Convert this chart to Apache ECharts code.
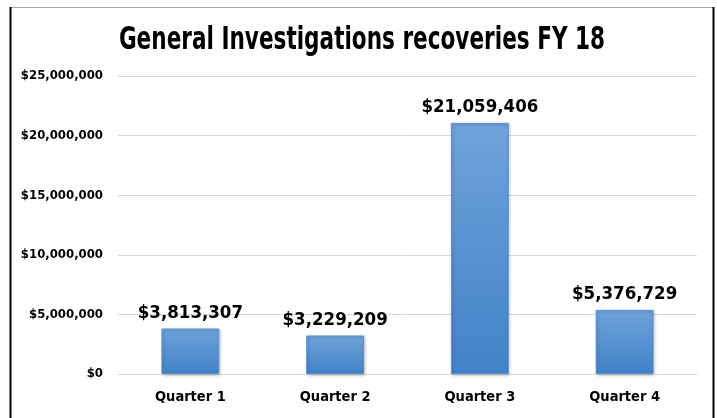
<!DOCTYPE html>
<html>
<head>
<meta charset="utf-8">
<script src="https://cdn.jsdelivr.net/npm/echarts@6/dist/echarts.min.js"></script>
<style>
html,body{margin:0;padding:0;background:#fff;}
#c{width:717px;height:418px;}
</style>
</head>
<body>
<div id="c"></div>
<script>
const titleText = 'General Investigations recoveries FY 18';
const categories = ['Quarter 1', 'Quarter 2', 'Quarter 3', 'Quarter 4'];
const recoveries = [3813307, 3229209, 21059406, 5376729];
const yMin = 0, yMax = 25000000, yStep = 5000000;

const narrow = "'DejaVu Sans Condensed', 'Liberation Sans Narrow', 'Arial Narrow', sans-serif";

function money(v){ return '$' + Math.round(v).toLocaleString('en-US'); }

const chart = echarts.init(document.getElementById('c'), null, {renderer:'canvas'});
chart.setOption({
  backgroundColor:'#fff',
  animation:false,
  grid:{left:118, right:20, top:76, bottom:44},
  xAxis:{
    type:'category', data:categories,
    axisLine:{show:true, lineStyle:{color:'#d9d9d9', width:1}},
    axisTick:{show:false},
    axisLabel:{margin:16, fontFamily:narrow, fontWeight:'bold', fontSize:14.5, color:'#000'}
  },
  yAxis:{
    type:'value', min:yMin, max:yMax, interval:yStep,
    axisLine:{show:false}, axisTick:{show:false},
    splitLine:{lineStyle:{color:'#d9d9d9', width:1}},
    axisLabel:{margin:15, formatter:money, fontFamily:narrow, fontWeight:'bold', fontSize:13, color:'#000'}
  },
  series:[{
    type:'bar', data:recoveries, barWidth:'40%',
    itemStyle:{
      color:new echarts.graphic.LinearGradient(0,0,0,1,[{offset:0,color:'#6fa3db'},{offset:1,color:'#4282c8'}]),
      borderColor:'#5b93d1', borderWidth:1,
      shadowColor:'rgba(0,0,0,0.25)', shadowBlur:3, shadowOffsetX:1, shadowOffsetY:1
    },
    label:{show:true, position:'top', distance:6, formatter:p=>money(p.value),
      fontFamily:narrow, fontWeight:'bold', fontSize:18.5, color:'#000'}
  }],
  graphic:[
    {type:'line', shape:{x1:10,y1:7.5,x2:714,y2:7.5}, style:{stroke:'#a6a6a6', lineWidth:1}, silent:true},
    {type:'line', shape:{x1:10.5,y1:7,x2:10.5,y2:418}, style:{stroke:'#000', lineWidth:2}, silent:true},
    {type:'line', shape:{x1:713.5,y1:7,x2:713.5,y2:418}, style:{stroke:'#000', lineWidth:2}, silent:true},
    {type:'text', x:362, y:41, scaleX:0.75, silent:true,
      style:{text:titleText, fontFamily:narrow, fontWeight:'bold', fontSize:32, fill:'#000', align:'center', verticalAlign:'middle'}}
  ]
});
</script>
</body>
</html>
